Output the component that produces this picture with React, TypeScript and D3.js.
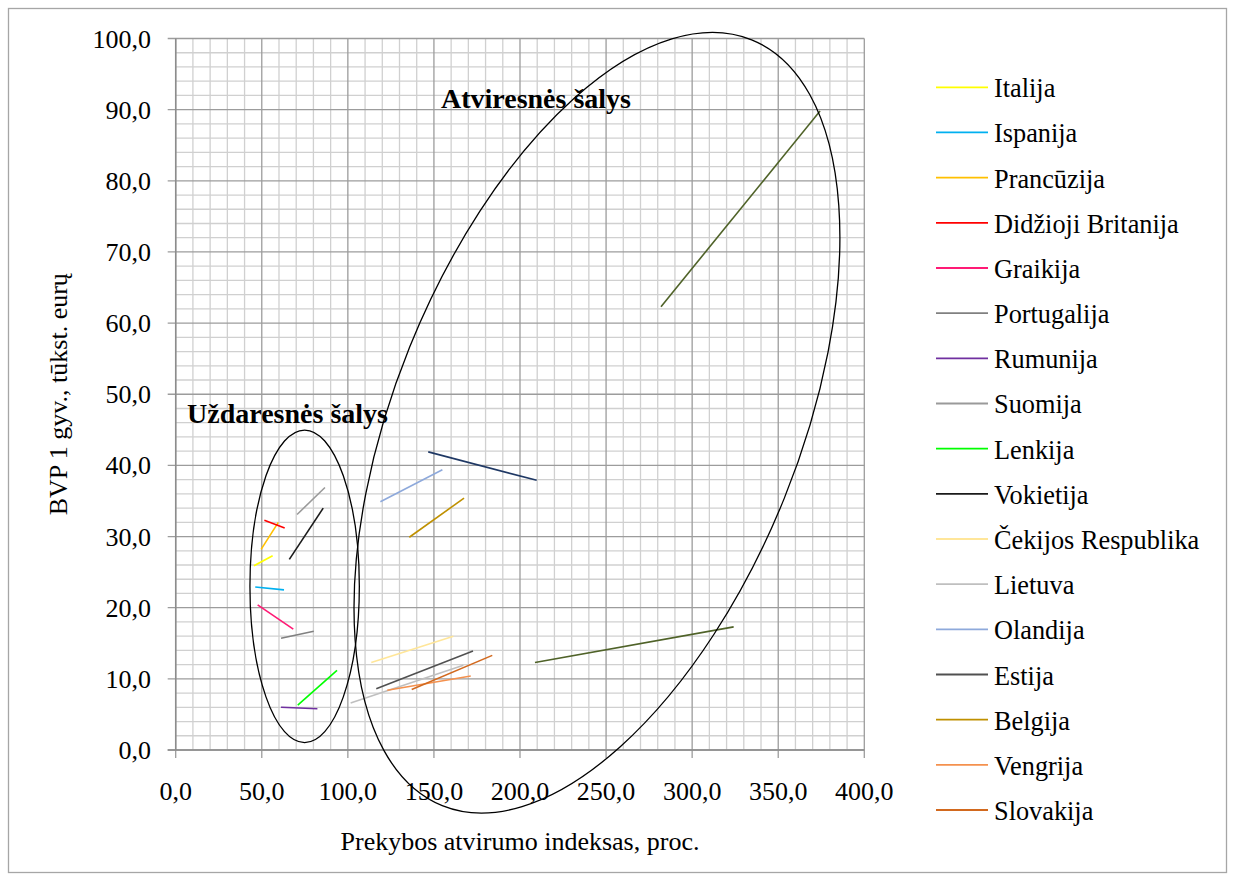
import React from "react";
import * as d3 from "d3";

// ---- data ----
const countries = [
  "Italija", "Ispanija", "Prancūzija", "Didžioji Britanija", "Graikija",
  "Portugalija", "Rumunija", "Suomija", "Lenkija", "Vokietija",
  "Čekijos Respublika", "Lietuva", "Olandija", "Estija", "Belgija",
  "Vengrija", "Slovakija",
];
const colors = [
  "#FFFF00", "#00B0F0", "#FFC000", "#FF0000", "#FF1A75",
  "#808080", "#7030A0", "#9A9A9A", "#00FF00", "#1A1A1A",
  "#FFE699", "#BFBFBF", "#8EA9DB", "#505050", "#BF9000",
  "#F4914E", "#D2691E",
];
// start and end point of each country: [openness, GDP per capita]
const startX = [45.5, 46.2, 49.6, 51.5, 47.6, 61.2, 61.2, 70.5, 70.9, 66.0, 113.6, 101.6, 118.9, 116.5, 135.7, 122.9, 137.1];
const startY = [25.9, 22.9, 28.2, 32.3, 20.4, 15.7, 6.0, 33.1, 6.3, 26.8, 12.3, 6.6, 34.9, 8.6, 29.9, 8.4, 8.5];
const endX = [56.3, 62.9, 59.6, 63.3, 68.3, 80.2, 82.3, 86.7, 93.7, 85.7, 161.3, 167.1, 154.9, 172.7, 167.5, 171.4, 183.9];
const endY = [27.3, 22.5, 32.0, 31.2, 17.0, 16.7, 5.8, 36.9, 11.2, 34.0, 16.0, 11.9, 39.4, 13.9, 35.4, 10.4, 13.3];

// series without legend entry
const extraColors = ["#1F3864", "#4F6228", "#4F6228"];
const extraStartX = [146.7, 208.7, 281.9];
const extraStartY = [41.9, 12.3, 62.3];
const extraEndX = [209.7, 324.1, 374.3];
const extraEndY = [37.9, 17.3, 89.8];

const xTicks = d3.range(0, 401, 50);
const yTicks = d3.range(0, 101, 10);
const xMinor = d3.range(0, 401, 10);
const yMinor = d3.range(0, 101, 2);

const groupLabels = ["Atviresnės šalys", "Uždaresnės šalys"];
const groupLabelX = [154.1, 6.6];
const groupLabelY = [90.3, 45.9];

// ellipses: center in data units
const ellCX = [244.7, 74.9];
const ellCY = [46.0, 23.0];

const W = 1235, H = 881;
const fontFamily = "'Liberation Serif', 'Times New Roman', serif";

export default function App() {
  const x = d3.scaleLinear().domain([0, 400]).range([175.7, 864.3]);
  const y = d3.scaleLinear().domain([0, 100]).range([750, 38.5]);
  const fmt = (v: number) => d3.format(".1f")(v).replace(".", ",");
  const line = d3.line<[number, number]>().x((d) => x(d[0])).y((d) => y(d[1]));

  const ellRx = [413, 54.7];
  const ellRy = [202, 156.3];
  const ellRot = [-68, 0];

  return (
    <svg width={W} height={H} style={{ position: "absolute", left: 0, top: 0, background: "#fff" }} fontFamily={fontFamily}>
      <rect x={8.5} y={8.5} width={1218} height={864} fill="#fff" stroke="#A6A6A6" strokeWidth={1.3} />
      {/* minor grid */}
      {xMinor.filter((v) => v % 50 !== 0).map((v) => (
        <line key={"xm" + v} x1={x(v)} x2={x(v)} y1={y(0)} y2={y(100)} stroke="#D0D0D0" strokeWidth={1.3} />
      ))}
      {yMinor.filter((v) => v % 10 !== 0).map((v) => (
        <line key={"ym" + v} x1={x(0)} x2={x(400)} y1={y(v)} y2={y(v)} stroke="#D0D0D0" strokeWidth={1.3} />
      ))}
      {/* major grid */}
      {xTicks.map((v) => (
        <line key={"xM" + v} x1={x(v)} x2={x(v)} y1={y(0) + 8} y2={y(100)} stroke="#9C9C9C" strokeWidth={1.3} />
      ))}
      {yTicks.map((v) => (
        <line key={"yM" + v} x1={x(0) - 8} x2={x(400)} y1={y(v)} y2={y(v)} stroke="#9C9C9C" strokeWidth={1.3} />
      ))}
      {/* axis lines */}
      <line x1={x(0)} x2={x(0)} y1={y(0)} y2={y(100)} stroke="#8C8C8C" strokeWidth={1.5} />
      <line x1={x(0) - 8} x2={x(400)} y1={y(0)} y2={y(0)} stroke="#8C8C8C" strokeWidth={1.5} />

      {/* tick labels */}
      {yTicks.map((v) => (
        <text key={"yl" + v} x={151} y={y(v) + 9} textAnchor="end" fontSize={26} fill="#000">{fmt(v)}</text>
      ))}
      {xTicks.map((v) => (
        <text key={"xl" + v} x={x(v)} y={800} textAnchor="middle" fontSize={26} fill="#000">{fmt(v)}</text>
      ))}

      {/* axis titles */}
      <text x={(x(0) + x(400)) / 2} y={850} textAnchor="middle" fontSize={26}>Prekybos atvirumo indeksas, proc.</text>
      <text transform={`translate(67, ${(y(0) + y(100)) / 2}) rotate(-90)`} textAnchor="middle" fontSize={26}>BVP 1 gyv., tūkst. eurų</text>

      {/* series */}
      {countries.map((c, i) => (
        <path key={c} d={line([[startX[i], startY[i]], [endX[i], endY[i]]]) || ""} stroke={colors[i]} strokeWidth={1.6} fill="none" />
      ))}
      {extraColors.map((c, i) => (
        <path key={"ex" + i} d={line([[extraStartX[i], extraStartY[i]], [extraEndX[i], extraEndY[i]]]) || ""} stroke={c} strokeWidth={1.6} fill="none" />
      ))}

      {/* ellipses */}
      {ellCX.map((cx, i) => (
        <ellipse key={"el" + i} cx={0} cy={0} rx={ellRx[i]} ry={ellRy[i]}
          transform={`translate(${x(cx)}, ${y(ellCY[i])}) rotate(${ellRot[i]})`}
          fill="none" stroke="#000" strokeWidth={1.3} />
      ))}

      {/* group labels */}
      {groupLabels.map((t, i) => (
        <text key={t} x={x(groupLabelX[i])} y={y(groupLabelY[i])} fontSize={28} fontWeight="bold">{t}</text>
      ))}

      {/* legend */}
      {countries.map((c, i) => {
        const ly = 87.3 + i * 45.17;
        return (
          <g key={"lg" + c}>
            <line x1={936} x2={988} y1={ly} y2={ly} stroke={colors[i]} strokeWidth={1.8} />
            <text x={994} y={ly + 10} fontSize={26.3}>{c}</text>
          </g>
        );
      })}
    </svg>
  );
}
